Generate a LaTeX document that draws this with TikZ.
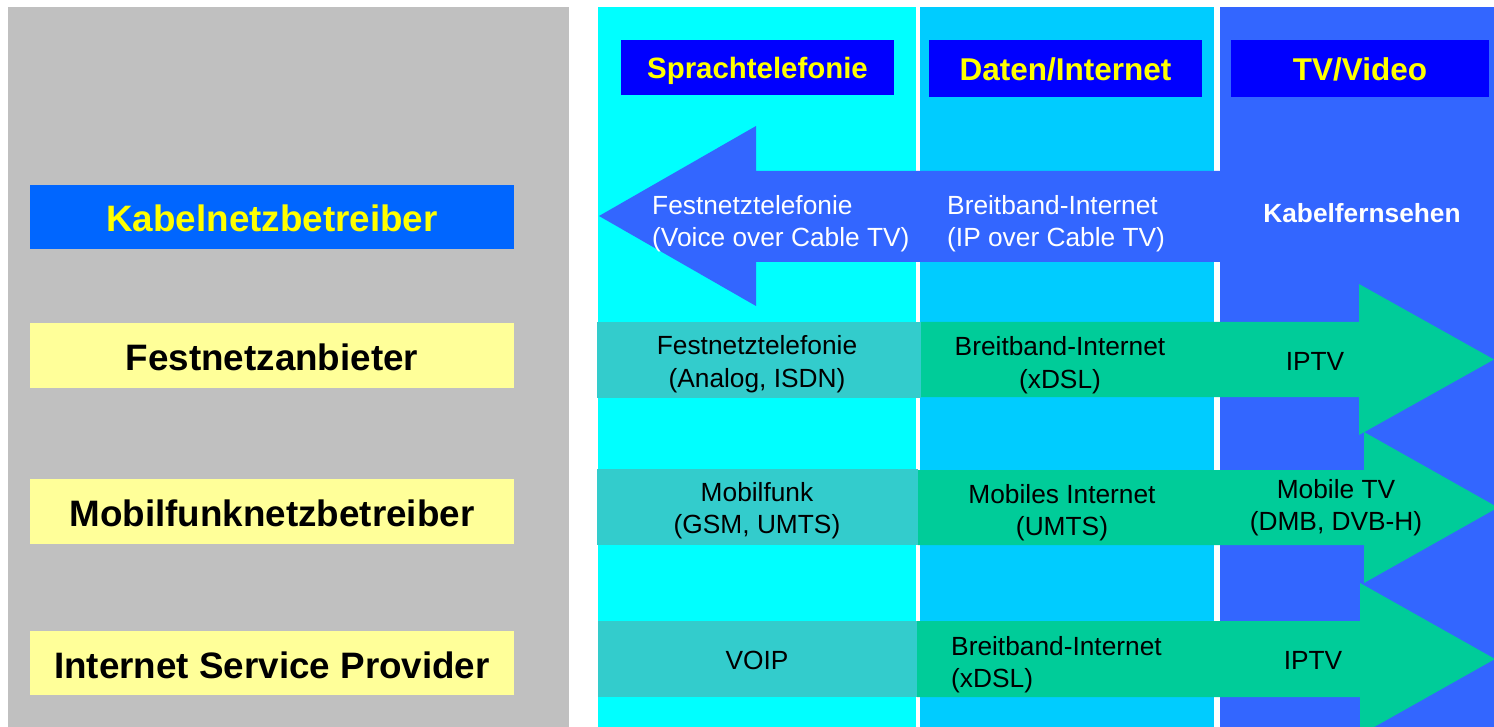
\documentclass[tikz,border=0pt]{standalone}
\usepackage{fontspec}
\setmainfont{Liberation Sans}
\definecolor{panelgray}{HTML}{C0C0C0}
\definecolor{colA}{HTML}{00FFFF}
\definecolor{colB}{HTML}{00CCFF}
\definecolor{colC}{HTML}{3366FF}
\definecolor{hdrblue}{HTML}{0000FF}
\definecolor{kabblue}{HTML}{0066FF}
\definecolor{txtyellow}{HTML}{FFFF00}
\definecolor{paleyellow}{HTML}{FFFF99}
\definecolor{tealrow}{HTML}{33CCCC}
\definecolor{greenrow}{HTML}{00CC99}
\tikzset{
  lefttxt/.style={inner sep=0pt, font=\fontsize{36.8}{42}\selectfont\bfseries},
  hdrtxt/.style={inner sep=0pt, text=txtyellow, font=\fontsize{31.5}{36}\selectfont\bfseries},
  celltxt/.style={inner sep=0pt, align=center, font=\fontsize{26.3}{32.5}\selectfont},
  arrowtxt/.style={celltxt, text=white, align=left, anchor=west},
}
\begin{document}
\begin{tikzpicture}[x=1pt,y=-1pt]
\useasboundingbox (0,0) rectangle (1494,727);
\fill[white] (0,0) rectangle (1494,727);
% left panel
\fill[panelgray] (8,7) rectangle (569,727);
% columns
\fill[colA] (598,7) rectangle (916,727);
\fill[colB] (920,7) rectangle (1214,727);
\fill[colC] (1220,7) rectangle (1494,727);
% headers
\fill[hdrblue] (621,40) rectangle (894,95);
\fill[hdrblue] (929,40) rectangle (1202,97);
\fill[hdrblue] (1231,40) rectangle (1489,97);
\node[hdrtxt, font=\fontsize{29.4}{34}\selectfont\bfseries] (h1) at (757.5,70.5) {Sprachtelefonie};
\node[hdrtxt] (h2) at (1065.5,69.5) {Daten/Internet};
\node[hdrtxt] (h3) at (1360,69.5) {TV/Video};
% cable arrow (left-pointing)
\fill[colC] (599,216) -- (756,126) -- (756,171) -- (1222,171) -- (1222,262)
  -- (756,262) -- (756,306) -- cycle;
\node[arrowtxt] (k1) at (652,223.5) {Festnetztelefonie\\(Voice over Cable TV)};
\node[arrowtxt] (k2) at (947,223.5) {Breitband-Internet\\(IP over Cable TV)};
\node[inner sep=0pt, text=white, font=\fontsize{26.3}{30}\selectfont\bfseries] (k3) at (1362,213) {Kabelfernsehen};
% row 1
\fill[tealrow] (597,322) rectangle (921,398);
\fill[greenrow] (921,322) -- (1359,322) -- (1359,284) -- (1494,359.5) -- (1359,435)
  -- (1359,397) -- (921,397) -- cycle;
\node[celltxt] (f1) at (757,364) {Festnetztelefonie\\(Analog, ISDN)};
\node[celltxt] (f2) at (1060,365) {Breitband-Internet\\(xDSL)};
\node[celltxt] (f3) at (1315,361) {IPTV};
% row 2
\fill[tealrow] (597,469) rectangle (918,545);
\fill[greenrow] (918,470) -- (1364,470) -- (1364,432) -- (1498,507.5) -- (1364,583)
  -- (1364,545) -- (918,545) -- cycle;
\node[celltxt] (m1) at (757,510.5) {Mobilfunk\\(GSM, UMTS)};
\node[celltxt] (m2) at (1062,512.5) {Mobiles Internet\\(UMTS)};
\node[celltxt] (m3) at (1336,507.5) {Mobile TV\\(DMB, DVB-H)};
% row 3
\fill[tealrow] (598,621) rectangle (917,697);
\fill[greenrow] (917,621) -- (1360,621) -- (1360,583) -- (1495,659) -- (1360,735)
  -- (1360,697) -- (917,697) -- cycle;
\node[celltxt] (i1) at (757,660) {VOIP};
\node[celltxt, align=left, anchor=west] (i2) at (951,664.5) {Breitband-Internet\\(xDSL)};
\node[celltxt] (i3) at (1313,660) {IPTV};
% left boxes
\fill[kabblue] (30,185) rectangle (514,249);
\node[lefttxt, text=txtyellow] (l1) at (272,218) {Kabelnetzbetreiber};
\fill[paleyellow] (30,323) rectangle (514,388);
\node[lefttxt] (l2) at (272,357) {Festnetzanbieter};
\fill[paleyellow] (30,479) rectangle (514,544);
\node[lefttxt] (l3) at (272,513) {Mobilfunknetzbetreiber};
\fill[paleyellow] (30,631) rectangle (514,695);
\node[lefttxt] (l4) at (272,665) {Internet Service Provider};
\end{tikzpicture}
\end{document}
